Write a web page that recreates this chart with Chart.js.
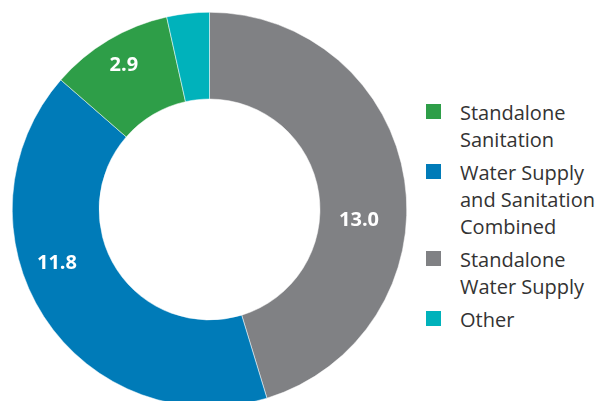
<!DOCTYPE html>
<html lang="en">
<head>
    <meta charset="UTF-8">
    <title>Projects by Type</title>
    <script src="https://cdn.jsdelivr.net/npm/chart.js"></script>
    <style>
        html, body {
            margin: 0;
            padding: 0;
            width: 603px;
            height: 401px;
            overflow: hidden;
            background: #fff;
            font-family: "Open Sans", sans-serif;
        }
        .chart-container {
            position: absolute;
            left: 0;
            top: 0;
            width: 419px;
            height: 419px;
        }
        #legend {
            position: absolute;
            left: 426px;
            top: 99px;
            color: #333;
            font-size: 20px;
            line-height: 27px;
        }
        .item {
            display: flex;
            align-items: flex-start;
            margin-bottom: 6px;
        }
        .box {
            width: 15px;
            height: 15px;
            margin-top: 5px;
            margin-right: 19px;
            flex: none;
        }
        .text {
            white-space: pre-line;
        }
    </style>
</head>
<body>
    <div class="chart-container">
        <canvas id="typeChart"></canvas>
    </div>
    <div id="legend"></div>

    <script>
        // drawn clockwise from 12 o'clock
        const labels = ['Standalone\nWater Supply', 'Water Supply\nand Sanitation\nCombined', 'Standalone\nSanitation', 'Other'];
        const values = [13.0, 11.8, 2.9, 1.0];
        const colors = ['#808184', '#007bb8', '#2e9e48', '#00b2bb'];
        const legendOrder = [2, 1, 0, 3];

        const valueLabels = {
            id: 'valueLabels',
            afterDatasetsDraw(chart, args, opts) {
                const ctx = chart.ctx;
                const arcs = chart.getDatasetMeta(0).data;
                ctx.save();
                ctx.fillStyle = '#fff';
                ctx.font = 'bold 20px "Open Sans"';
                ctx.textAlign = 'center';
                ctx.textBaseline = 'middle';
                arcs.forEach((arc, i) => {
                    if (values[i] < 2) return;
                    const p = arc.getProps(['x', 'y', 'startAngle', 'endAngle', 'outerRadius'], true);
                    // labels sit a little off the arc middle, as in the print version
                    const a = (p.startAngle + p.endAngle) / 2 + opts.shift[i] * Math.PI / 180;
                    const r = p.outerRadius * opts.radius[i];
                    ctx.fillText(values[i].toFixed(1), p.x + Math.cos(a) * r, p.y + Math.sin(a) * r);
                });
                ctx.restore();
            }
        };

        new Chart(document.getElementById('typeChart'), {
            type: 'doughnut',
            data: {
                labels: labels,
                datasets: [{
                    data: values,
                    backgroundColor: colors,
                    borderColor: '#fff',
                    borderWidth: 0.5
                }]
            },
            options: {
                responsive: true,
                maintainAspectRatio: false,
                animation: false,
                cutout: '56%',
                layout: { padding: 12 },
                plugins: {
                    legend: { display: false },
                    tooltip: { enabled: false },
                    valueLabels: {
                        shift: [12.5, 13.5, 0, 0],
                        radius: [0.76, 0.82, 0.85, 0.8]
                    }
                }
            },
            plugins: [valueLabels]
        });

        const legend = document.getElementById('legend');
        legendOrder.forEach(i => {
            const item = document.createElement('div');
            item.className = 'item';
            item.innerHTML = '<div class="box" style="background:' + colors[i] + '"></div>' +
                '<div class="text">' + labels[i] + '</div>';
            legend.appendChild(item);
        });
    </script>
</body>
</html>
